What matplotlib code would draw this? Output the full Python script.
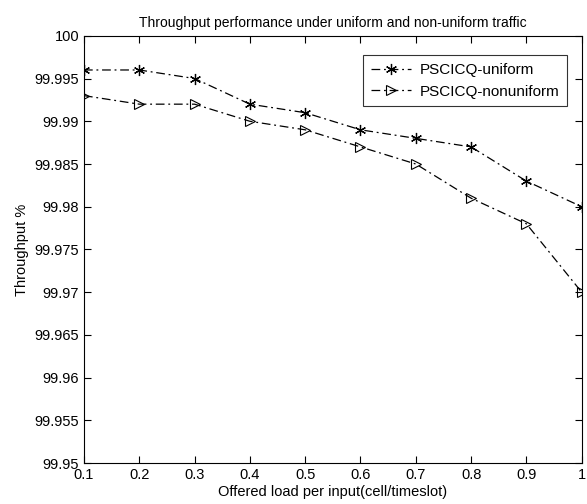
import matplotlib
matplotlib.use('Agg')
import matplotlib.pyplot as plt

plt.rcParams['font.family'] = ['Liberation Sans', 'DejaVu Sans']

# offered load and throughput values
load = [0.1, 0.2, 0.3, 0.4, 0.5, 0.6, 0.7, 0.8, 0.9, 1.0]
uniform = [99.996, 99.996, 99.995, 99.992, 99.991, 99.989, 99.988, 99.987, 99.983, 99.980]
nonuniform = [99.993, 99.992, 99.992, 99.990, 99.989, 99.987, 99.985, 99.981, 99.978, 99.970]

x_ticks = [0.1, 0.2, 0.3, 0.4, 0.5, 0.6, 0.7, 0.8, 0.9, 1.0]
x_labels = ['0.1', '0.2', '0.3', '0.4', '0.5', '0.6', '0.7', '0.8', '0.9', '1']
y_ticks = [99.95, 99.955, 99.96, 99.965, 99.97, 99.975, 99.98, 99.985, 99.99, 99.995, 100]
y_labels = ['99.95', '99.955', '99.96', '99.965', '99.97', '99.975', '99.98',
            '99.985', '99.99', '99.995', '100']

fig = plt.figure(figsize=(5.87, 5.04), dpi=100)
ax = fig.add_axes([0.143, 0.081, 0.848, 0.848])

# matlab-ish dash-dot
dashdot = (0, (7, 3, 1.5, 3))

ax.plot(load, uniform, color='black', linestyle=dashdot, linewidth=0.9,
        marker=(6, 2, 0), markersize=8, markeredgewidth=0.9,
        label='PSCICQ-uniform')
ax.plot(load, nonuniform, color='black', linestyle=dashdot, linewidth=0.9,
        marker='>', markersize=7, markerfacecolor='none', markeredgewidth=0.8,
        label='PSCICQ-nonuniform')

ax.set_xlim(0.1, 1.0)
ax.set_ylim(99.95, 100)
ax.set_xticks(x_ticks)
ax.set_xticklabels(x_labels)
ax.set_yticks(y_ticks)
ax.set_yticklabels(y_labels)
ax.tick_params(direction='in', top=True, right=True, labelsize=10.5, length=5)
for s in ax.spines.values():
    s.set_linewidth(0.8)

ax.set_title('Throughput performance under uniform and non-uniform traffic', fontsize=10, pad=6)
ax.set_xlabel('Offered load per input(cell/timeslot)', fontsize=10.5, labelpad=2)
ax.set_ylabel('Throughput %', fontsize=10.5, labelpad=4)

leg = ax.legend(loc='upper right', bbox_to_anchor=(0.98, 0.965), fontsize=11,
                frameon=True, fancybox=False, edgecolor='black', handlelength=2.6,
                handletextpad=0.6, borderaxespad=0.3, borderpad=0.5)
leg.get_frame().set_linewidth(0.8)

fig.savefig('out.png', dpi=100)
